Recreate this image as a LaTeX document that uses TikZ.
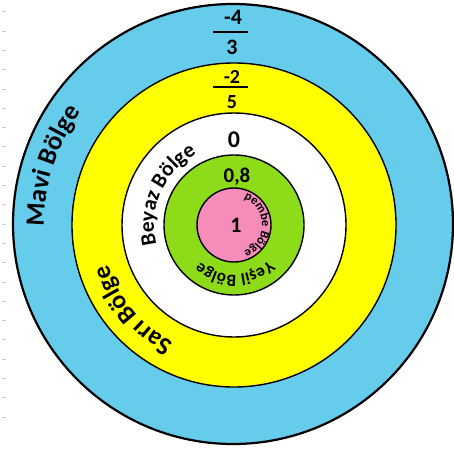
\documentclass[tikz,border=0pt]{standalone}
\usepackage{fontspec}
\setmainfont{Carlito}
\usetikzlibrary{decorations.text,calc}
\definecolor{mavi}{RGB}{102,204,236}
\definecolor{sari}{RGB}{255,255,0}
\definecolor{yesil}{RGB}{142,219,26}
\definecolor{pembe}{RGB}{245,140,185}
\definecolor{tickgray}{RGB}{200,200,200}
\begin{document}
\begin{tikzpicture}[x=1pt,y=1pt,
  ring/.style={draw=black, line width=1.4pt},
  num/.style={font=\bfseries, anchor=base, inner sep=0pt},
  bar/.style={line width=2pt},
  tickmark/.style={draw=tickgray, line width=0.8pt},
  arctext/.style={decorate, decoration={text along path, text align=center, text={#1}}}]
\useasboundingbox (0,0) rectangle (454,451);
\fill[white] (0,0) rectangle (454,451);
\coordinate (Oo) at (233,227);
\coordinate (O) at (234,226);
% rings
\draw[ring, line width=2.2pt, fill=mavi] (Oo) circle[radius=220];
\draw[ring, fill=sari] (O) circle[radius=162];
\draw[ring, fill=white] (O) circle[radius=112];
\draw[ring, fill=yesil] (O) circle[radius=70];
\draw[ring, fill=pembe] (O) circle[radius=37];
% left tick marks
\foreach \k in {0,...,21}
  \draw[tickmark] (2,{451-11.7-19.3*\k}) -- (6,{451-11.7-19.3*\k});
% curved labels
\path[arctext={|\bfseries\fontsize{26.5}{26.5}\selectfont|Mavi Bölge}]
  ($(O)+(202:190)$) arc[start angle=202, end angle=122, radius=190];
\path[arctext={|\bfseries\fontsize{25.5}{25.5}\selectfont|Sarı Bölge}]
  ($(O)+(262:132)$) arc[start angle=262, end angle=178, radius=132];
\path[arctext={|\bfseries\fontsize{21.5}{21.5}\selectfont|Beyaz Bölge}]
  ($(O)+(200:80)$) arc[start angle=200, end angle=112, radius=80];
\path[arctext={|\bfseries\fontsize{17}{17}\selectfont|Yeşil Bölge}]
  ($(O)+(330:50)$) arc[start angle=330, end angle=212, radius=50];
\path[arctext={|\bfseries\fontsize{12.5}{12.5}\selectfont|pembe Bölge}]
  ($(O)+(90:28)$) arc[start angle=90, end angle=-90, radius=28];
% numbers
\node[num, font=\bfseries\fontsize{22}{22}\selectfont] (m4) at (233,426) {-4};
\coordinate (b1l) at (213,419);
\coordinate (b1r) at (248,419);
\draw[bar] (b1l) -- (b1r);
\node[num, font=\bfseries\fontsize{22}{22}\selectfont] (d3) at (232,396) {3};
\node[num, font=\bfseries\fontsize{20}{20}\selectfont] (m2) at (232,368) {-2};
\coordinate (b2l) at (213,364);
\coordinate (b2r) at (248,364);
\draw[bar] (b2l) -- (b2r);
\node[num, font=\bfseries\fontsize{20}{20}\selectfont] (d5) at (232,343) {5};
\node[num, font=\bfseries\fontsize{24}{24}\selectfont] (z0) at (234,304) {0};
\node[num, font=\bfseries\fontsize{21}{21}\selectfont] (z8) at (237,269) {0,8};
\node[num, font=\bfseries\fontsize{22}{22}\selectfont] (one) at (236,219) {1};
\end{tikzpicture}
\end{document}
